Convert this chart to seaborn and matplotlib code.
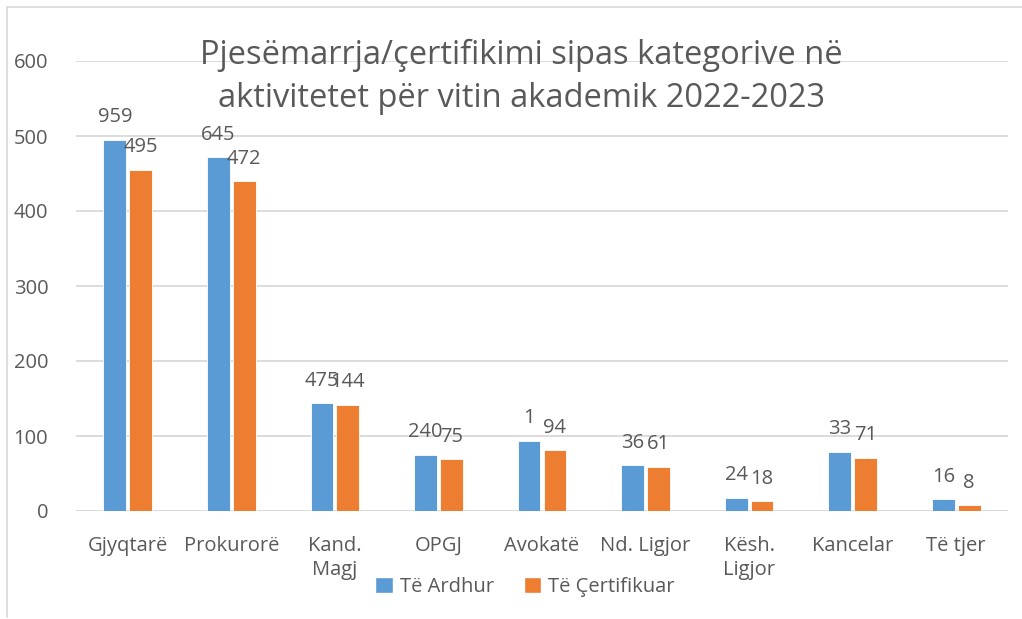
import matplotlib
matplotlib.use("Agg")
import matplotlib.pyplot as plt
from matplotlib.lines import Line2D
from matplotlib.patches import Patch
import pandas as pd
import seaborn as sns

# values
categories = ["Gjyqtarë", "Prokurorë", "Kand.\nMagj", "OPGJ", "Avokatë",
              "Nd. Ligjor", "Kësh.\nLigjor", "Kancelar", "Të tjer"]
te_ardhur = [495, 472, 144, 75, 94, 61, 18, 79, 16]
te_certifikuar = [455, 440, 142, 69, 81, 59, 13, 71, 8]
# the data labels as printed on the chart
labels_ardhur = ["959", "645", "475", "240", "1", "36", "24", "33", "16"]
labels_certifikuar = ["495", "472", "144", "75", "94", "61", "18", "71", "8"]
series = ["Të Ardhur", "Të Çertifikuar"]
yticks = [0, 100, 200, 300, 400, 500, 600]

BLUE = "#5B9BD5"
ORANGE = "#ED7D31"
TEXT = "#595959"
GRID = "#D9D9D9"

sns.set_theme(style="white")
plt.rcParams['font.family'] = ['Open Sans', 'DejaVu Sans']

df = pd.DataFrame({"Kategoria": categories * 2,
                   "Vlera": te_ardhur + te_certifikuar,
                   "Seria": [series[0]] * len(categories) + [series[1]] * len(categories)})

fig = plt.figure(figsize=(10.22, 6.19), dpi=100)
ax = fig.add_axes([76 / 1022, 1 - 511 / 619, (1008 - 76) / 1022, (511 - 61) / 619])

sns.barplot(data=df, x="Kategoria", y="Vlera", hue="Seria", palette=[BLUE, ORANGE],
            saturation=1, width=0.5, gap=0.12, legend=False, ax=ax,
            edgecolor="white", linewidth=0.6)

ax.set_ylim(0, 600)
ax.set_yticks(yticks)
ax.set_xlim(-0.5, len(categories) - 0.5)
ax.yaxis.grid(True, color=GRID, linewidth=1.3)
ax.set_axisbelow(True)
for s in ax.spines.values():
    s.set_visible(False)
ax.axhline(0, color=GRID, linewidth=1.5, zorder=0.5)
ax.tick_params(axis="both", length=0, colors=TEXT, labelsize=14.5)
ax.tick_params(axis="y", pad=20)
ax.tick_params(axis="x", pad=18)
for t in ax.get_xticklabels():
    t.set_linespacing(1.25)
ax.set_xlabel("")
ax.set_ylabel("")

for cont, labs in zip(ax.containers, [labels_ardhur, labels_certifikuar]):
    ax.bar_label(cont, labels=labs, padding=9, fontsize=14.5, color=TEXT)

fig.text(521 / 1022, 1 - 77 / 619,
         "Pjesëmarrja/çertifikimi sipas kategorive në\naktivitetet për vitin akademik 2022-2023",
         ha="center", va="center", fontsize=23.5, color=TEXT, linespacing=1.42)

handles = [Patch(facecolor=BLUE), Patch(facecolor=ORANGE)]
fig.legend(handles, series, loc="center", bbox_to_anchor=(525 / 1022, 1 - 587 / 619),
           ncol=2, frameon=False, fontsize=14.5, labelcolor=TEXT,
           handlelength=0.85, handleheight=0.85, handletextpad=0.35, columnspacing=1.5)

# light frame of the chart area
fig.add_artist(Line2D([7 / 1022, 1], [1 - 7 / 619, 1 - 7 / 619], color=GRID, linewidth=1.2))
fig.add_artist(Line2D([7 / 1022, 7 / 1022], [1 - 617 / 619, 1 - 7 / 619], color=GRID, linewidth=1.2))

fig.savefig("out.png", dpi=100)
